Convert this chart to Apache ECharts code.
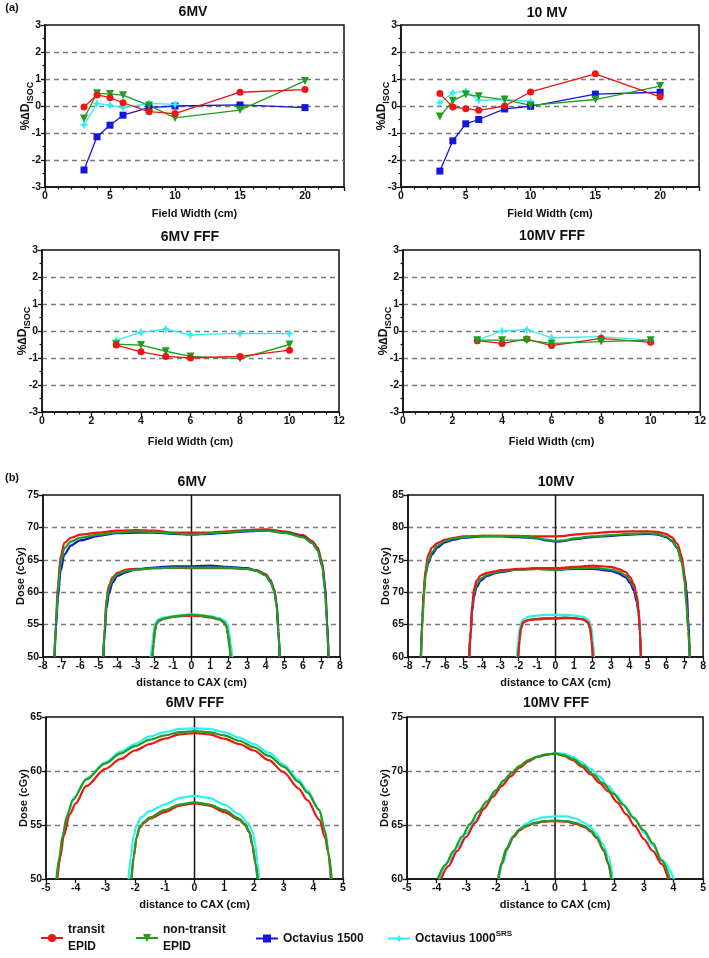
<!DOCTYPE html>
<html><head><meta charset="utf-8">
<script src="https://cdn.jsdelivr.net/npm/echarts@6/dist/echarts.min.js"></script>
<style>html,body{margin:0;padding:0;background:#fff}#c{width:709px;height:958px}</style>
</head><body><div id="c"></div>
<script>
// ---------- (a) data ----------
const FW = [3, 4, 5, 6, 8, 10, 15, 20];
const FW_SRS = [3, 4, 5, 6, 8, 10];
const A6_RED = [-0.04, 0.41, 0.31, 0.12, -0.21, -0.28, 0.51, 0.61];
const A6_GREEN = [-0.46, 0.47, 0.44, 0.40, 0.02, -0.44, -0.15, 0.93];
const A6_BLUE = [-2.37, -1.14, -0.71, -0.34, -0.06, 0.0, 0.04, -0.06];
const A6_CYAN = [-0.7, 0.09, 0.03, -0.06, 0.1, 0.06];
const A10_RED = [0.46, -0.04, -0.1, -0.16, 0.0, 0.52, 1.19, 0.34];
const A10_GREEN = [-0.39, 0.19, 0.43, 0.36, 0.24, 0.02, 0.24, 0.74];
const A10_BLUE = [-2.41, -1.29, -0.66, -0.5, -0.11, -0.01, 0.44, 0.51];
const A10_CYAN = [0.12, 0.49, 0.55, 0.21, 0.24, 0.17];
const FW_FFF = [3, 4, 5, 6, 8, 10];
const A6F_RED = [-0.52, -0.77, -0.94, -1.0, -0.94, -0.71];
const A6F_GREEN = [-0.49, -0.52, -0.75, -0.94, -1.02, -0.5];
const A6F_CYAN = [-0.34, -0.05, 0.07, -0.14, -0.09, -0.1];
const A10F_RED = [-0.36, -0.46, -0.3, -0.54, -0.27, -0.42];
const A10F_GREEN = [-0.34, -0.34, -0.34, -0.46, -0.39, -0.34];
const A10F_CYAN = [-0.34, 0.0, 0.05, -0.25, -0.21, -0.34];

// ---------- (b) 6MV profiles ----------
const B6_LARGE_X = [-7.38,-7.3,-7.2,-7.05,-6.85,-6.5,-6,-5,-4,-3,-2,-1,0,1,2,3,4,5,6,6.5,6.8,7.05,7.2,7.3,7.38];
const B6_LARGE_RED = [50,55.5,61,65.5,67.6,68.4,68.9,69.2,69.5,69.6,69.5,69.2,69.2,69.2,69.4,69.6,69.7,69.4,68.8,67.9,66.9,64.5,61,56,50];
const B6_LARGE_BLUE = [50,54.5,59,63.3,65.8,67.2,68.0,68.7,69.1,69.2,69.2,69.0,68.9,69.0,69.2,69.4,69.5,69.2,68.6,67.6,66.5,64,60.5,55.5,50];
const B6_LARGE_GREEN = [50,55,60,64.5,66.8,67.8,68.4,68.9,69.2,69.4,69.3,69.1,68.9,69.1,69.3,69.5,69.5,69.2,68.5,67.6,66.5,64,60,55,50];
const B6_MED_X = [-4.75,-4.68,-4.58,-4.45,-4.25,-4,-3.5,-3,-2,-1,0,1,2,3,3.5,4,4.25,4.45,4.58,4.68,4.75];
const B6_MED_GREEN = [50,54,58.5,60.6,62.0,62.8,63.3,63.5,63.7,63.8,63.8,63.8,63.8,63.6,63.3,62.6,61.7,60.2,58,54,50];
const B6_MED_RED = [50,54.5,59,61,62.3,63,63.5,63.6,63.7,63.8,63.7,63.7,63.7,63.6,63.4,62.8,61.9,60.5,58.5,54.5,50];
const B6_MED_BLUE = [50,53.5,57.5,59.8,61.5,62.5,63.1,63.5,63.8,64,64,64.1,63.9,63.7,63.3,62.6,61.6,60.3,58.3,54,50];
const B6_SMALL_X = [-2.1,-2.04,-1.97,-1.88,-1.75,-1.5,-1,-0.5,0,0.5,1,1.5,1.75,1.88,1.97,2.04,2.1];
const B6_SMALL_GREEN = [50,52,54,55.1,55.6,55.9,56.2,56.4,56.5,56.4,56.2,55.8,55.4,54.8,53.5,52,50];
const B6_SMALL_RED = [50,52.2,54.2,55.2,55.6,55.9,56.2,56.3,56.4,56.3,56.1,55.8,55.3,54.7,53.4,51.8,50];
const B6_SMALL_CYAN_X = [-2.2,-2.12,-2.04,-1.95,-1.8,-1.5,-1,-0.5,0,0.5,1,1.5,1.8,1.95,2.04,2.12,2.2];
const B6_SMALL_CYAN = [50,52,54,55.2,55.8,56.1,56.3,56.5,56.6,56.5,56.3,56.0,55.6,55.0,53.6,52,50];

// ---------- (b) 10MV profiles ----------
const B10_LARGE_X = [-7.3,-7.22,-7.15,-7.05,-6.9,-6.7,-6.4,-6,-5.5,-5,-4,-3,-2,-1,-0.5,0,0.5,1,2,3,4,5,5.5,6,6.3,6.6,6.85,7.0,7.1,7.2,7.28];
const B10_LARGE_GREEN = [60,65,69,72.5,74.8,76.2,77.2,77.9,78.3,78.5,78.7,78.7,78.6,78.4,78.1,77.9,78.0,78.3,78.6,78.8,79.0,79.1,79.0,78.6,78.0,76.8,74.5,71.5,68,64,60];
const B10_LARGE_BLUE = [60,66,70,72.8,74.5,75.8,76.9,77.7,78.1,78.4,78.6,78.6,78.5,78.3,78.0,77.8,77.9,78.2,78.5,78.7,78.9,79.0,78.9,78.5,77.9,76.8,74.8,72.5,70.5,66,60];
const B10_LARGE_RED = [60,65.5,70,73.5,75.8,76.9,77.6,78.1,78.4,78.6,78.7,78.7,78.7,78.6,78.6,78.6,78.7,78.9,79.1,79.3,79.4,79.4,79.3,79.0,78.5,77.5,75.5,72.5,68.5,64,60];
const B10_MED_X = [-4.68,-4.6,-4.52,-4.42,-4.28,-4.05,-3.7,-3.3,-3,-2,-1,0,1,2,3,3.4,3.8,4.05,4.25,4.4,4.5,4.57,4.63];
const B10_MED_GREEN = [60,64,67.5,69.8,71.2,72.1,72.7,73.0,73.2,73.5,73.6,73.4,73.7,73.8,73.5,73.2,72.6,71.8,70.8,69.2,67,64,60];
const B10_MED_RED = [60,64.5,68,70.5,71.8,72.6,73.0,73.2,73.4,73.6,73.7,73.7,73.9,74.1,73.9,73.6,73.1,72.3,71.2,69.5,67.5,64.5,60];
const B10_MED_BLUE = [60,63.5,67,69.3,70.8,71.8,72.5,72.9,73.1,73.5,73.6,73.5,73.6,73.6,73.3,72.9,72.3,71.4,70.2,68.5,66.8,64,60];
const B10_SMALL_X = [-2.02,-1.95,-1.88,-1.75,-1.5,-1,-0.5,0,0.5,1,1.5,1.75,1.88,1.95,2.02];
const B10_SMALL_GREEN = [60,62.5,64.3,65.3,65.7,65.9,66.0,66.0,66.1,66.0,65.8,65.3,64.3,62.5,60];
const B10_SMALL_RED = [60,62.8,64.5,65.4,65.7,65.8,65.9,65.9,66.0,66.0,65.8,65.4,64.5,62.8,60];
const B10_SMALL_CYAN_X = [-2.1,-2.03,-1.95,-1.8,-1.5,-1,-0.5,0,0.5,1,1.5,1.8,1.95,2.03,2.1];
const B10_SMALL_CYAN = [60,62.5,64.5,65.7,66.2,66.4,66.5,66.5,66.5,66.4,66.2,65.7,64.5,62.5,60];

// ---------- (b) 6MV FFF profiles ----------
const F6_LARGE_GREEN_X = [-4.65,-4.55,-4.45,-4.3,-4.1,-3.65,-3,-2.5,-2,-1.5,-1,-0.5,0,0.5,1,1.5,2,2.5,3,3.5,3.8,4.2,4.4,4.52,4.62];
const F6_LARGE_GREEN = [50,52,53.9,55.8,57.3,59.2,60.7,61.6,62.3,62.9,63.3,63.6,63.7,63.6,63.3,62.8,62.2,61.4,60.4,59.0,58.0,56.4,54.4,52.3,50];
const F6_LARGE_RED_X = [-4.62,-4.52,-4.4,-4.2,-4.0,-3.65,-3,-2.5,-2,-1.5,-1,-0.5,0,0.5,1,1.5,2,2.5,3,3.5,3.8,4.2,4.4,4.5,4.6];
const F6_LARGE_RED = [50,52,54,56,57,58.6,60.2,61.1,61.9,62.5,63.0,63.4,63.5,63.4,63.0,62.5,61.9,61.0,59.9,58.4,57.3,55.5,53.8,52.5,50];
const F6_LARGE_CYAN_X = [-4.62,-4.52,-4.42,-4.25,-4.05,-3.6,-3,-2.5,-2,-1.5,-1,-0.5,0,0.5,1,1.5,2,2.5,3,3.5,3.8,4.2,4.4,4.5,4.58];
const F6_LARGE_CYAN = [50,52.2,54.2,56.2,57.6,59.4,60.8,61.8,62.5,63.2,63.6,63.9,63.95,63.9,63.6,63.1,62.5,61.7,60.6,59.2,58.2,56.4,54.4,52.5,50];
const F6_SMALL_X = [-2.12,-2.05,-1.95,-1.85,-1.7,-1.5,-1,-0.5,0,0.5,1,1.5,1.7,1.85,1.95,2.05,2.12];
const F6_SMALL_GREEN = [50,52,53.9,54.8,55.3,55.7,56.4,56.9,57.1,56.9,56.4,55.6,55.1,54.4,53.2,51.5,50];
const F6_SMALL_RED = [50,52,53.8,54.7,55.2,55.6,56.2,56.8,57.0,56.8,56.2,55.5,55.0,54.3,53.1,51.5,50];
const F6_SMALL_CYAN_X = [-2.22,-2.15,-2.05,-1.95,-1.8,-1.5,-1,-0.5,0,0.5,1,1.5,1.8,1.95,2.05,2.12,2.18];
const F6_SMALL_CYAN = [50,52,54,55,55.7,56.3,56.9,57.5,57.7,57.5,56.9,56.0,55.2,54.4,53.2,51.5,50];

// ---------- (b) 10MV FFF profiles ----------
const F10_LARGE_GREEN_X = [-3.96,-3.7,-3.43,-3.15,-2.87,-2.6,-2.3,-2.0,-1.74,-1.45,-1.18,-0.9,-0.62,-0.3,0,0.3,0.62,0.95,1.29,1.6,1.97,2.3,2.64,3.0,3.31,3.6,3.88];
const F10_LARGE_GREEN = [60,61.3,62.6,63.9,65.1,66.2,67.2,68.2,69.1,69.9,70.5,71.0,71.3,71.55,71.6,71.45,71.1,70.5,69.7,68.9,67.9,66.9,65.7,64.5,63.3,61.7,60];
const F10_LARGE_RED_X = [-3.85,-3.6,-3.3,-3,-2.7,-2.4,-2.1,-1.8,-1.5,-1.2,-0.9,-0.6,-0.3,0,0.3,0.6,0.9,1.2,1.5,1.8,2.1,2.4,2.7,3.0,3.3,3.6,3.82];
const F10_LARGE_RED = [60,61.2,62.6,63.9,65.2,66.5,67.6,68.6,69.5,70.3,70.9,71.3,71.5,71.6,71.4,71.0,70.4,69.7,68.9,68.1,67.1,66.0,64.9,63.7,62.6,61.4,60];
const F10_LARGE_CYAN_X = [-3.92,-3.6,-3.3,-3,-2.7,-2.4,-2.1,-1.8,-1.5,-1.2,-0.9,-0.6,-0.3,0,0.3,0.6,0.9,1.2,1.5,1.8,2.1,2.4,2.7,3.0,3.3,3.6,4.02];
const F10_LARGE_CYAN = [60,61.6,62.9,64.2,65.4,66.6,67.8,68.8,69.7,70.4,70.9,71.3,71.5,71.65,71.6,71.3,70.8,70.2,69.5,68.6,67.7,66.6,65.5,64.3,63.1,61.8,60];
const F10_SMALL_X = [-1.92,-1.8,-1.65,-1.4,-1.2,-1,-0.7,-0.4,0,0.4,0.7,1,1.2,1.4,1.65,1.8,1.9];
const F10_SMALL_GREEN = [60,61.5,62.8,64.0,64.6,64.9,65.2,65.35,65.4,65.35,65.2,64.9,64.5,63.9,62.7,61.5,60];
const F10_SMALL_RED = [60,61.4,62.7,63.9,64.5,64.85,65.15,65.3,65.35,65.3,65.1,64.8,64.4,63.8,62.6,61.4,60];
const F10_SMALL_CYAN_X = [-1.9,-1.75,-1.6,-1.4,-1.2,-1,-0.7,-0.4,0,0.4,0.7,1,1.2,1.4,1.6,1.8,1.95];
const F10_SMALL_CYAN = [60,61.5,62.8,63.9,64.6,65.1,65.5,65.7,65.8,65.8,65.6,65.2,64.8,64.2,63.3,62.1,60];

// ---------- styling ----------
const FONT = 'Liberation Sans, Arial, Helvetica, sans-serif';
const RED = '#f01414', GREEN = '#1f9e1f', BLUE = '#1515dc', CYAN = '#2ef0f0';
const N_T = 'transit EPID', N_NT = 'non-transit EPID', N_O15 = 'Octavius 1500', N_O10 = 'Octavius 1000SRS';
const STAR = 'path://M0,-10 L3,-3 L10,0 L3,3 L0,10 L-3,3 L-10,0 L-3,-3 Z';

const zip = (xs, ys) => xs.map((x, i) => [x, ys[i]]);

const grids = [
  {left: 45, top: 25, width: 299, height: 162},
  {left: 401, top: 25, width: 298, height: 162},
  {left: 42, top: 250, width: 297, height: 162},
  {left: 403, top: 250, width: 298, height: 162},
  {left: 43, top: 495, width: 297, height: 162},
  {left: 408, top: 495, width: 296, height: 162},
  {left: 46, top: 717, width: 297, height: 162},
  {left: 407, top: 717, width: 297, height: 162}
].map(g => Object.assign({show: true, borderColor: '#111', borderWidth: 1.5, backgroundColor: 'transparent'}, g));

const lbl = {color: '#111', fontFamily: FONT, fontWeight: 'bold', fontSize: 10.5};
const axLine = {show: true, onZero: false, lineStyle: {color: '#111', width: 1.5}};

function xAxis(gi, min, max, interval, minor, name, gap) {
  return {
    type: 'value', gridIndex: gi, min, max, interval,
    axisLine: axLine,
    axisTick: {show: true, length: 4, lineStyle: {color: '#111', width: 1.3}},
    minorTick: {show: minor > 0, splitNumber: minor || 5, length: 2.5, lineStyle: {color: '#111', width: 1.2}},
    axisLabel: Object.assign({margin: 4, showMaxLabel: (max % interval) === 0}, lbl),
    splitLine: {show: false},
    name, nameLocation: 'middle', nameGap: gap, nameMoveOverlap: false,
    nameTextStyle: {color: '#111', fontFamily: FONT, fontWeight: 'bold', fontSize: 11}
  };
}
function yAxis(gi, min, max, interval, minor, isA) {
  const ax = {
    type: 'value', gridIndex: gi, min, max, interval,
    axisLine: axLine,
    axisTick: {show: true, length: 4, lineStyle: {color: '#111', width: 1.3}},
    minorTick: {show: minor > 0, splitNumber: minor || 5, length: 2.5, lineStyle: {color: '#111', width: 1.2}},
    axisLabel: Object.assign({margin: 4}, lbl),
    splitLine: {show: true, showMinLine: false, showMaxLine: false, lineStyle: {type: [5, 4], color: '#7a7a7a', width: 1.3}},
    nameLocation: 'middle', nameRotate: 90, nameMoveOverlap: false
  };
  if (isA) {
    ax.name = '{a|%∆D}{b|ISOC}';
    ax.nameGap = 13;
    ax.nameTextStyle = {color: '#111', fontFamily: FONT, fontWeight: 'bold', fontSize: 12,
      rich: {a: {fontFamily: FONT, fontWeight: 'bold', fontSize: 12, color: '#111', verticalAlign: 'bottom'},
             b: {fontFamily: FONT, fontWeight: 'bold', fontSize: 9, color: '#111', verticalAlign: 'bottom', padding: [0, 0, -3, 0]}}};
  } else {
    ax.name = 'Dose (cGy)';
    ax.nameGap = 17;
    ax.nameTextStyle = {color: '#111', fontFamily: FONT, fontWeight: 'bold', fontSize: 11};
  }
  return ax;
}

const xAxes = [
  xAxis(0, 0, 23, 5, 5, 'Field Width (cm)', 21),
  xAxis(1, 0, 23, 5, 5, 'Field Width (cm)', 21),
  xAxis(2, 0, 12, 2, 4, 'Field Width (cm)', 24),
  xAxis(3, 0, 12, 2, 4, 'Field Width (cm)', 24),
  xAxis(4, -8, 8, 1, 0, 'distance to CAX (cm)', 20),
  xAxis(5, -8, 8, 1, 0, 'distance to CAX (cm)', 20),
  xAxis(6, -5, 5, 1, 0, 'distance to CAX (cm)', 20),
  xAxis(7, -5, 5, 1, 0, 'distance to CAX (cm)', 20)
];
const yAxes = [
  yAxis(0, -3, 3, 1, 2, true), yAxis(1, -3, 3, 1, 2, true),
  yAxis(2, -3, 3, 1, 2, true), yAxis(3, -3, 3, 1, 2, true),
  yAxis(4, 50, 75, 5, 0, false), yAxis(5, 60, 85, 5, 0, false),
  yAxis(6, 50, 65, 5, 0, false), yAxis(7, 60, 75, 5, 0, false)
];

const SYM = {};
SYM[N_T] = {symbol: 'circle', size: 7, rot: 0, color: RED};
SYM[N_NT] = {symbol: 'triangle', size: 8, rot: 180, color: GREEN};
SYM[N_O15] = {symbol: 'rect', size: 7, rot: 0, color: BLUE};
SYM[N_O10] = {symbol: STAR, size: 9, rot: 0, color: CYAN};

function aS(name, gi, xs, ys) {
  const s = SYM[name];
  return {type: 'line', name, xAxisIndex: gi, yAxisIndex: gi, data: zip(xs, ys),
    symbol: s.symbol, symbolSize: s.size, symbolRotate: s.rot, showSymbol: true,
    itemStyle: {color: s.color}, lineStyle: {color: s.color, width: 1.3}, z: 3, animation: false};
}
function bS(name, gi, xs, ys) {
  const c = SYM[name].color;
  return {type: 'line', name, xAxisIndex: gi, yAxisIndex: gi, data: zip(xs, ys),
    symbol: 'none', smooth: 0.3, smoothMonotone: 'x', itemStyle: {color: c},
    lineStyle: {color: c, width: 2.2}, z: 3, animation: false};
}
function cax(gi, ymin, ymax) {
  return {type: 'line', xAxisIndex: gi, yAxisIndex: gi, data: [[0, ymin], [0, ymax]],
    symbol: 'none', silent: true, lineStyle: {color: '#111', width: 1.5}, z: 1, animation: false};
}

const series = [
  aS(N_O15, 0, FW, A6_BLUE), aS(N_O10, 0, FW_SRS, A6_CYAN), aS(N_NT, 0, FW, A6_GREEN), aS(N_T, 0, FW, A6_RED),
  aS(N_O15, 1, FW, A10_BLUE), aS(N_O10, 1, FW_SRS, A10_CYAN), aS(N_NT, 1, FW, A10_GREEN), aS(N_T, 1, FW, A10_RED),
  aS(N_O10, 2, FW_FFF, A6F_CYAN), aS(N_NT, 2, FW_FFF, A6F_GREEN), aS(N_T, 2, FW_FFF, A6F_RED),
  aS(N_O10, 3, FW_FFF, A10F_CYAN), aS(N_T, 3, FW_FFF, A10F_RED), aS(N_NT, 3, FW_FFF, A10F_GREEN),
  cax(4, 50, 75),
  bS(N_T, 4, B6_LARGE_X, B6_LARGE_RED), bS(N_O15, 4, B6_LARGE_X, B6_LARGE_BLUE), bS(N_NT, 4, B6_LARGE_X, B6_LARGE_GREEN),
  bS(N_T, 4, B6_MED_X, B6_MED_RED), bS(N_O15, 4, B6_MED_X, B6_MED_BLUE), bS(N_NT, 4, B6_MED_X, B6_MED_GREEN),
  bS(N_O10, 4, B6_SMALL_CYAN_X, B6_SMALL_CYAN), bS(N_T, 4, B6_SMALL_X, B6_SMALL_RED), bS(N_NT, 4, B6_SMALL_X, B6_SMALL_GREEN),
  cax(5, 60, 85),
  bS(N_O15, 5, B10_LARGE_X, B10_LARGE_BLUE), bS(N_T, 5, B10_LARGE_X, B10_LARGE_RED), bS(N_NT, 5, B10_LARGE_X, B10_LARGE_GREEN),
  bS(N_O15, 5, B10_MED_X, B10_MED_BLUE), bS(N_NT, 5, B10_MED_X, B10_MED_GREEN), bS(N_T, 5, B10_MED_X, B10_MED_RED),
  bS(N_O10, 5, B10_SMALL_CYAN_X, B10_SMALL_CYAN), bS(N_NT, 5, B10_SMALL_X, B10_SMALL_GREEN), bS(N_T, 5, B10_SMALL_X, B10_SMALL_RED),
  cax(6, 50, 65),
  bS(N_O10, 6, F6_LARGE_CYAN_X, F6_LARGE_CYAN), bS(N_T, 6, F6_LARGE_RED_X, F6_LARGE_RED), bS(N_NT, 6, F6_LARGE_GREEN_X, F6_LARGE_GREEN),
  bS(N_O10, 6, F6_SMALL_CYAN_X, F6_SMALL_CYAN), bS(N_T, 6, F6_SMALL_X, F6_SMALL_RED), bS(N_NT, 6, F6_SMALL_X, F6_SMALL_GREEN),
  cax(7, 60, 75),
  bS(N_O10, 7, F10_LARGE_CYAN_X, F10_LARGE_CYAN), bS(N_T, 7, F10_LARGE_RED_X, F10_LARGE_RED), bS(N_NT, 7, F10_LARGE_GREEN_X, F10_LARGE_GREEN),
  bS(N_O10, 7, F10_SMALL_CYAN_X, F10_SMALL_CYAN), bS(N_T, 7, F10_SMALL_X, F10_SMALL_RED), bS(N_NT, 7, F10_SMALL_X, F10_SMALL_GREEN)
];

const legTxt = {color: '#111', fontFamily: FONT, fontWeight: 'bold', fontSize: 12, lineHeight: 17};
function leg(name, left, top, formatter) {
  return {data: [name], left, top, itemWidth: 22, itemHeight: 10, itemGap: 5, padding: 0,
    selectedMode: false, formatter, textStyle: Object.assign({
      rich: {a: {fontFamily: FONT, fontWeight: 'bold', fontSize: 12, color: '#111', lineHeight: 17},
             s: {fontFamily: FONT, fontWeight: 'bold', fontSize: 8, color: '#111', verticalAlign: 'top', lineHeight: 17, padding: [0, 0, 8, 0]}}
    }, legTxt)};
}

function ttl(text, x, y, size) {
  return {type: 'text', x, y, silent: true,
    style: {text, fill: '#111', font: 'bold ' + (size || 14) + 'px ' + FONT, align: 'center', verticalAlign: 'middle'}};
}

const option = {
  backgroundColor: '#fff',
  animation: false,
  grid: grids,
  xAxis: xAxes,
  yAxis: yAxes,
  series,
  legend: [
    leg(N_T, 40, 921, () => 'transit\nEPID'),
    leg(N_NT, 135, 921, () => 'non-transit\nEPID'),
    leg(N_O15, 255, 930, () => 'Octavius 1500'),
    leg(N_O10, 387, 930, () => '{a|Octavius 1000}{s|SRS}')
  ],
  graphic: [
    ttl('(a)', 12, 8, 11), ttl('(b)', 12, 478, 11),
    ttl('6MV', 193, 12), ttl('10 MV', 547, 13),
    ttl('6MV FFF', 190, 237), ttl('10MV FFF', 552, 236),
    ttl('6MV', 192, 482), ttl('10MV', 556, 482),
    ttl('6MV FFF', 195, 703), ttl('10MV FFF', 556, 703)
  ]
};

const chart = echarts.init(document.getElementById('c'), null, {renderer: 'canvas'});
chart.setOption(option);
</script>
</body></html>
